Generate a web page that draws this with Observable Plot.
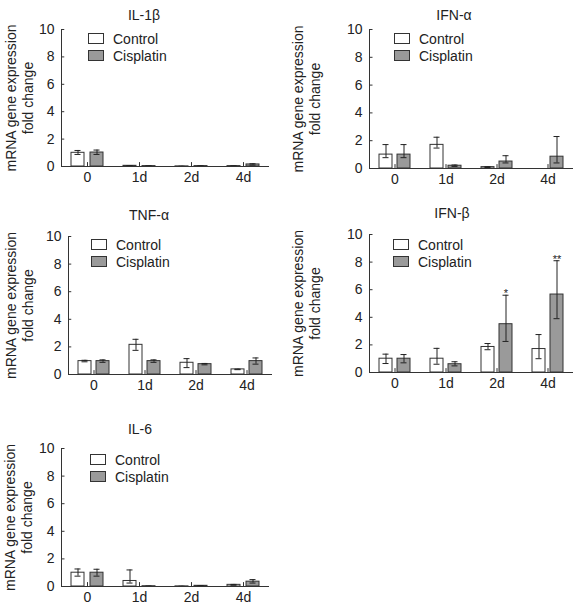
<!DOCTYPE html>
<html><head><meta charset="utf-8">
<script src="https://cdn.jsdelivr.net/npm/d3@7"></script>
<script src="https://cdn.jsdelivr.net/npm/@observablehq/plot@0.6"></script>
<style>
body{margin:0;background:#fff;font-family:"Liberation Sans",Arial,sans-serif;}
#root{position:relative;width:577px;height:610px;overflow:hidden;}
.panel{position:absolute;}
.title{position:absolute;font-size:14px;transform:translate(-50%,-50%);white-space:nowrap;color:#222;line-height:16px}
.legend{position:absolute;font-size:14px;color:#222;}
.legend .row{display:flex;align-items:center;height:17px;white-space:nowrap}
.legend .sw{width:14px;height:9px;border:1px solid #333;margin-right:9px;box-sizing:content-box}
</style></head><body><div id="root"></div>
<script>
const days = ["0", "1d", "2d", "4d"];
const groups = ["Control", "Cisplatin"];
const genes = ["IL-1β", "IFN-α", "TNF-α", "IFN-β", "IL-6"];
const yTicks = [0, 2, 4, 6, 8, 10];
const yLabel = "mRNA gene expression\nfold change";

// IL-1β
const il1bControl = [1.0, 0.05, 0.01, 0.03];
const il1bControlLow = [0.88, 0.04, 0.0, 0.02];
const il1bControlHigh = [1.17, 0.07, 0.02, 0.05];
const il1bCisplatin = [1.02, 0.03, 0.03, 0.15];
const il1bCisplatinLow = [0.88, 0.02, 0.02, 0.1];
const il1bCisplatinHigh = [1.2, 0.05, 0.05, 0.2];
// IFN-α
const ifnaControl = [1.0, 1.7, 0.1, 0.0];
const ifnaControlLow = [0.78, 1.47, 0.07, 0.0];
const ifnaControlHigh = [1.72, 2.25, 0.13, 0.0];
const ifnaCisplatin = [1.0, 0.2, 0.5, 0.85];
const ifnaCisplatinLow = [0.78, 0.15, 0.4, 0.4];
const ifnaCisplatinHigh = [1.72, 0.25, 0.92, 2.3];
// TNF-α
const tnfaControl = [0.97, 2.15, 0.85, 0.37];
const tnfaControlLow = [0.92, 1.75, 0.5, 0.35];
const tnfaControlHigh = [1.03, 2.55, 1.15, 0.39];
const tnfaCisplatin = [0.97, 0.97, 0.75, 0.97];
const tnfaCisplatinLow = [0.88, 0.88, 0.7, 0.75];
const tnfaCisplatinHigh = [1.06, 1.06, 0.8, 1.2];
// IFN-β
const ifnbControl = [1.0, 1.0, 1.85, 1.7];
const ifnbControlLow = [0.65, 0.6, 1.65, 1.0];
const ifnbControlHigh = [1.33, 1.75, 2.1, 2.75];
const ifnbCisplatin = [1.0, 0.6, 3.5, 5.65];
const ifnbCisplatinLow = [0.7, 0.48, 2.25, 3.9];
const ifnbCisplatinHigh = [1.3, 0.78, 5.6, 8.1];
const ifnbSigDays = ["2d", "4d"];
const ifnbSigText = ["*", "**"];
// IL-6
const il6Control = [1.0, 0.4, 0.01, 0.12];
const il6ControlLow = [0.75, 0.25, 0.0, 0.09];
const il6ControlHigh = [1.27, 1.2, 0.02, 0.15];
const il6Cisplatin = [1.0, 0.02, 0.05, 0.35];
const il6CisplatinLow = [0.75, 0.01, 0.03, 0.25];
const il6CisplatinHigh = [1.25, 0.03, 0.07, 0.5];

const colors = ["#ffffff", "#9a9a9a"];

function rowsFor(c, cl, ch, s, sl, sh) {
  const out = [];
  days.forEach((d, i) => {
    out.push({day: d, group: "Control", value: c[i], low: cl[i], high: ch[i]});
    out.push({day: d, group: "Cisplatin", value: s[i], low: sl[i], high: sh[i]});
  });
  return out;
}

const panels = [
  {gene: genes[0], rows: rowsFor(il1bControl, il1bControlLow, il1bControlHigh, il1bCisplatin, il1bCisplatinLow, il1bCisplatinHigh),
   left: 0, top: 19, width: 288, mL: 59, mR: 18, h: 137, title: [144, 15], legend: [88, 30]},
  {gene: genes[1], rows: rowsFor(ifnaControl, ifnaControlLow, ifnaControlHigh, ifnaCisplatin, ifnaCisplatinLow, ifnaCisplatinHigh),
   left: 288, top: 19, width: 289, mL: 80, mR: 3, h: 139, title: [454, 15], legend: [394, 30]},
  {gene: genes[2], rows: rowsFor(tnfaControl, tnfaControlLow, tnfaControlHigh, tnfaCisplatin, tnfaCisplatinLow, tnfaCisplatinHigh),
   left: 0, top: 226, width: 288, mL: 66, mR: 15, h: 138, title: [149, 215], legend: [91, 236]},
  {gene: genes[3], rows: rowsFor(ifnbControl, ifnbControlLow, ifnbControlHigh, ifnbCisplatin, ifnbCisplatinLow, ifnbCisplatinHigh),
   left: 288, top: 224, width: 289, mL: 80, mR: 3, h: 138, title: [452, 213], legend: [393, 236], sig: true},
  {gene: genes[4], rows: rowsFor(il6Control, il6ControlLow, il6ControlHigh, il6Cisplatin, il6CisplatinLow, il6CisplatinHigh),
   left: 0, top: 438, width: 288, mL: 60, mR: 18, h: 138, title: [140, 429], legend: [90, 451]}
];

const root = document.getElementById("root");
const mT = 10, mB = 24;
const tickShape = {draw(context, l) { context.moveTo(0, 0); context.lineTo(0, -l); }};

for (const p of panels) {
  const sigRows = p.sig ? ifnbSigDays.map((d, i) => {
    const r = p.rows.find(r => r.day === d && r.group === "Cisplatin");
    return {day: d, group: "Cisplatin", y: r.high, text: ifnbSigText[i]};
  }) : [];
  const facetW = (p.width - p.mL - p.mR) / days.length;
  const chart = Plot.plot({
    width: p.width,
    height: mT + p.h + mB,
    marginTop: mT,
    marginBottom: mB,
    marginLeft: p.mL,
    marginRight: p.mR,
    style: {fontFamily: "'Liberation Sans', Arial, sans-serif", fontSize: "14px", color: "#222", background: "transparent", overflow: "visible"},
    fx: {domain: days, padding: 0, label: null, axis: null},
    x: {domain: groups, paddingInner: 0.29, paddingOuter: 0.5, axis: null},
    y: {domain: [0, 10], axis: null},
    color: {domain: groups, range: colors},
    marks: [
      Plot.barY(p.rows, {fx: "day", x: "group", y: "value", fill: "group", stroke: "#333", strokeWidth: 1}),
      Plot.ruleX(p.rows, {fx: "day", x: "group", y1: "low", y2: "high", stroke: "#222", strokeWidth: 1}),
      Plot.tickY(p.rows, {fx: "day", x: "group", y: "low", stroke: "#222", insetLeft: 3.5, insetRight: 3.5}),
      Plot.tickY(p.rows, {fx: "day", x: "group", y: "high", stroke: "#222", insetLeft: 3.5, insetRight: 3.5}),
      Plot.text(sigRows, {fx: "day", x: "group", y: "y", text: "text", fontSize: 11, lineAnchor: "bottom", dy: 2}),
      Plot.ruleY([0], {stroke: "#333"}),
      Plot.frame({anchor: "left", facetAnchor: "left", stroke: "#333"}),
      // inward y ticks
      Plot.tickY(yTicks, {y: d => d, facetAnchor: "left", stroke: "#333", insetRight: facetW - 4}),
      Plot.axisY({ticks: yTicks, tickSize: 0, tickPadding: 7, label: null}),
      Plot.text([yLabel], {frameAnchor: "left", facetAnchor: "left", rotate: -90, lineHeight: 1.2,
        lineAnchor: "top", textAnchor: "middle", dx: -(p.mL - 1.5), fontSize: 14}),
      // short upward ticks at each time point
      Plot.vector(days, {fx: d => d, frameAnchor: "bottom", length: 4, anchor: "start", shape: tickShape, stroke: "#333", strokeWidth: 1}),
      Plot.axisFx({anchor: "bottom", tickSize: 0, tickPadding: 6, label: null})
    ]
  });
  chart.classList.add("panel");
  chart.style.left = p.left + "px";
  chart.style.top = p.top + "px";
  root.appendChild(chart);

  const t = document.createElement("div");
  t.className = "title";
  t.textContent = p.gene;
  t.style.left = p.title[0] + "px";
  t.style.top = p.title[1] + "px";
  root.appendChild(t);

  const lg = document.createElement("div");
  lg.className = "legend";
  lg.style.left = p.legend[0] + "px";
  lg.style.top = p.legend[1] + "px";
  groups.forEach((g, i) => {
    const row = document.createElement("div");
    row.className = "row";
    const sw = document.createElement("span");
    sw.className = "sw";
    sw.style.background = colors[i];
    row.appendChild(sw);
    row.appendChild(document.createTextNode(g));
    lg.appendChild(row);
  });
  root.appendChild(lg);
}
</script></body></html>
